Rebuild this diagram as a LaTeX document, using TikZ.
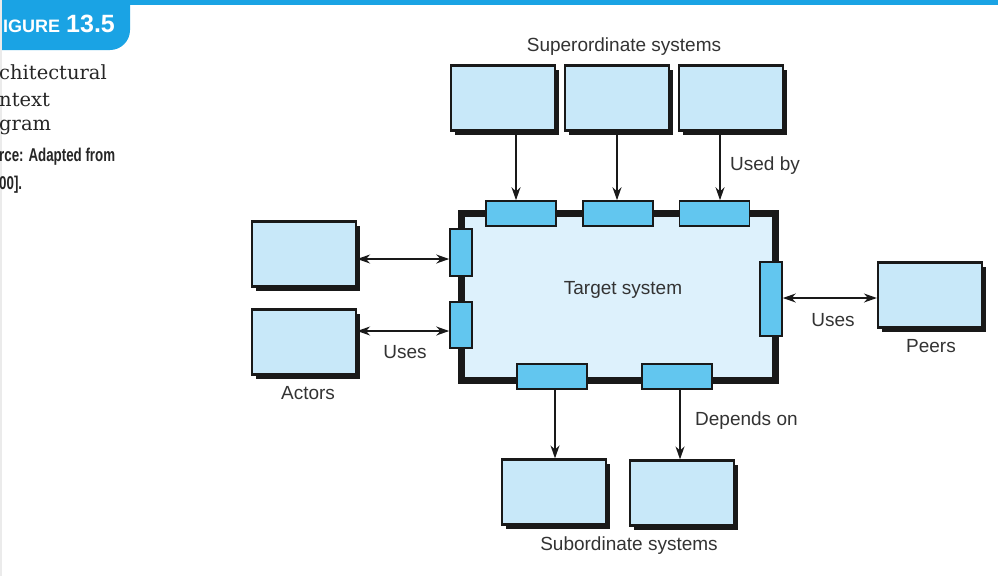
\documentclass[tikz,border=0pt]{standalone}
\usepackage{fontspec}
\setmainfont{Liberation Sans}
\newfontfamily\capserif{DejaVu Serif}
\newfontfamily\narrowfont[FakeStretch=0.72]{Liberation Sans Bold}
\newfontfamily\tabfont{Liberation Sans Bold}
\usetikzlibrary{arrows.meta,shadows}
\definecolor{barblue}{HTML}{1AA3E4}
\definecolor{boxfill}{HTML}{C8E8F9}
\definecolor{portfill}{HTML}{62C6EF}
\definecolor{targetfill}{HTML}{DDF1FC}
\definecolor{txt}{HTML}{333333}
\tikzset{
  sysbox/.style={draw=black!90, line width=2.2pt, fill=boxfill, minimum width=104pt, minimum height=65pt,
    drop shadow={shadow xshift=4pt, shadow yshift=-4pt, fill=black!90, opacity=1}},
  portbox/.style={draw=black!90, line width=1.6pt, fill=portfill, inner sep=0pt},
  hport/.style={portbox, minimum width=70pt, minimum height=25pt},
  vport/.style={portbox, minimum width=22pt, minimum height=46pt},
  conn/.style={line width=1.7pt, draw=black!90, -{Stealth[length=13pt,width=9pt]}},
  biconn/.style={line width=1.7pt, draw=black!90, {Stealth[length=13pt,width=9pt]}-{Stealth[length=13pt,width=9pt]}},
  lbl/.style={text=txt, font=\fontsize{19}{22}\selectfont, inner sep=0pt},
  captxt/.style={text=black!85, anchor=west, inner sep=0pt}
}
\begin{document}
\begin{tikzpicture}[x=1pt,y=-1pt]
\useasboundingbox (0,0) rectangle (998,576);
\fill[white] (0,0) rectangle (998,576);
% header
\fill[barblue] (0,0) rectangle (998,5);
\fill[barblue] (0,0) -- (130,0) -- (130,30) arc[start angle=0,end angle=90,radius=20] -- (110,50) -- (0,50) -- cycle;
\fill[black!8] (0,0) rectangle (2,576);
\node[anchor=west, text=white, inner sep=0pt] (fig) at (3,24) {\tabfont\fontsize{18}{20}\selectfont IGURE\,\,\fontsize{25}{27}\selectfont 13.5};
\node[captxt] (c1) at (-1,72) {\capserif\fontsize{19.5}{22}\selectfont chitectural};
\node[captxt] (c2) at (-1,100) {\capserif\fontsize{19.5}{22}\selectfont ntext};
\node[captxt] (c3) at (-1,127) {\capserif\fontsize{19.5}{22}\selectfont gram};
\node[captxt] (c4) at (-1,157) {\narrowfont\fontsize{18.5}{20}\selectfont rce: Adapted from};
\node[captxt] (c5) at (-1,185) {\narrowfont\fontsize{18.5}{20}\selectfont 00].};
% target system
\node[draw=black!90, line width=7pt, fill=targetfill, minimum width=314pt, minimum height=167pt] (T) at (618,296.5) {};
\node[lbl] (tl) at (623,290) {Target system};
% ports
\node[hport] (p1) at (521,213.5) {};
\node[hport] (p2) at (618,213.5) {};
\node[hport] (p3) at (714.5,213.5) {};
\node[vport, minimum height=47pt] (l1) at (461,252.5) {};
\node[vport] (l2) at (461,325) {};
\node[vport, minimum height=74pt] (r1) at (771,299) {};
\node[hport] (b1) at (552,376.5) {};
\node[hport] (b2) at (677,376.5) {};
% superordinate
\node[sysbox] (s1) at (503,98) {};
\node[sysbox] (s2) at (617,98) {};
\node[sysbox] (s3) at (731,98) {};
\node[lbl] (sl) at (624,47) {Superordinate systems};
% actors
\node[sysbox] (a1) at (304,254) {};
\node[sysbox] (a2) at (304,342) {};
\node[lbl] (al) at (308,393) {Actors};
% peers
\node[sysbox] (pe) at (930,295) {};
\node[lbl] (pl) at (931,346) {Peers};
% subordinate
\node[sysbox] (u1) at (554,492) {};
\node[sysbox] (u2) at (682,493) {};
\node[lbl] (ul) at (629,546) {Subordinate systems};
% connectors
\draw[conn] (516,0 |- s1.south) -- (516,0 |- p1.north);
\draw[conn] (617,0 |- s2.south) -- (617,0 |- p2.north);
\draw[conn] (720,0 |- s3.south) -- (720,0 |- p3.north);
\node[lbl, anchor=west] (ub) at (730,166) {Used by};
\draw[biconn] (a1.east |- 0,259) -- (l1.west |- 0,259);
\draw[biconn] (a2.east |- 0,331) -- (l2.west |- 0,331);
\node[lbl] (us1) at (405,352) {Uses};
\draw[biconn] (r1.east |- 0,298) -- (pe.west |- 0,298);
\node[lbl] (us2) at (833,320) {Uses};
\draw[conn] (555,0 |- b1.south) -- (555,0 |- u1.north);
\draw[conn] (680,0 |- b2.south) -- (680,0 |- u2.north);
\node[lbl, anchor=west] (dp) at (695,421) {Depends on};
\end{tikzpicture}
\end{document}
